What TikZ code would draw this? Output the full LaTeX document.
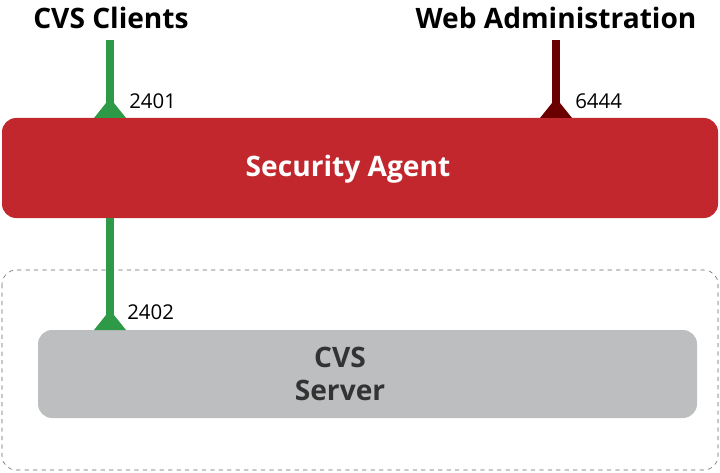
\documentclass[tikz,border=0pt]{standalone}
\usepackage{fontspec}
\setmainfont{Open Sans}
\usetikzlibrary{positioning}
\definecolor{agentred}{HTML}{C1272D}
\definecolor{webred}{HTML}{6B0000}
\definecolor{portgreen}{HTML}{2E9A47}
\definecolor{servergray}{HTML}{BCBEC0}
\begin{document}
\begin{tikzpicture}[x=0.025cm,y=-0.025cm]
    \tikzstyle{title} = [font=\bfseries\fontsize{20}{22}\selectfont, inner sep=0pt];
    \tikzstyle{port} = [font=\fontsize{14.5}{16}\selectfont, anchor=west, inner sep=0pt];
    \useasboundingbox (0,0) rectangle (720,472);

    \node[title](C) at (111,18) {CVS Clients};
    \node[title](W) at (556,18) {Web Administration};
    \fill[agentred, rounded corners=10pt] (2,118) rectangle (718,218);
    \node[text=white, font=\bfseries\fontsize{20}{22}\selectfont](A) at (348,169) {Security Agent};
    \draw[gray!80!black, dashed, rounded corners=10pt] (2,270) rectangle (718,470);
    \fill[servergray, rounded corners=10pt] (38,330) rectangle (697,418);
    \node[text=black!80, align=center, font=\bfseries\fontsize{20}{23}\selectfont](S) at (340,374) {CVS\\Server};

    \coordinate (c1) at (110,118);
    \coordinate (w1) at (556,118);
    \coordinate (c2) at (110,218);
    \coordinate (c3) at (110,330);

    \draw[portgreen, line width=5pt] (c1 |- 0,40) -- (c1);
    \draw[webred, line width=5pt] (w1 |- 0,40) -- (w1);
    \draw[portgreen, line width=5pt] (c2) -- (c3);

    \fill[portgreen] (94,118) -- (110,98) -- (126,118) -- cycle;
    \fill[webred] (540,118) -- (556,98) -- (572,118) -- cycle;
    \fill[portgreen] (94,330) -- (110,310) -- (126,330) -- cycle;

    \node[port](P1) at (129,101) {2401};
    \node[port](P2) at (575,101) {6444};
    \node[port](P3) at (127,312) {2402};
\end{tikzpicture}
\end{document}
